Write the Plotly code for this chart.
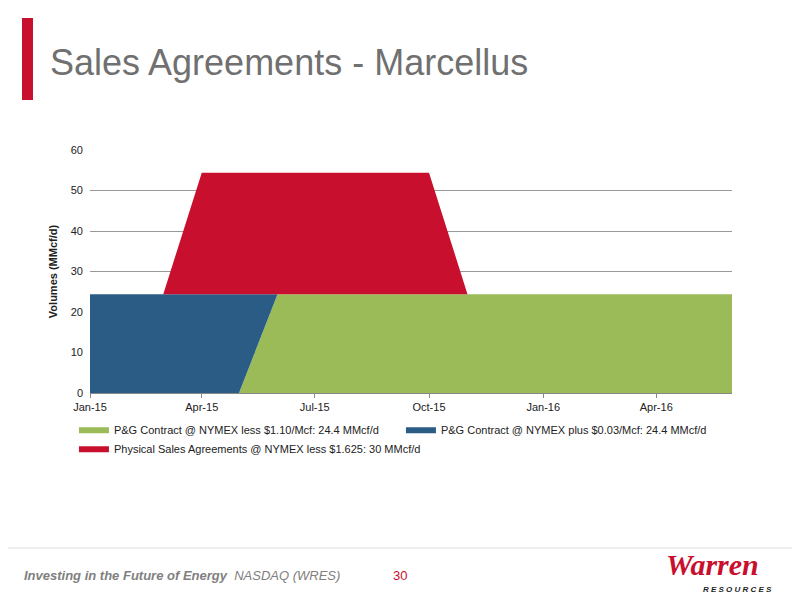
import plotly.graph_objects as go

months = ["2015-01-01","2015-02-01","2015-03-01","2015-04-01","2015-05-01","2015-06-01",
          "2015-07-01","2015-08-01","2015-09-01","2015-10-01","2015-11-01","2015-12-01",
          "2016-01-01","2016-02-01","2016-03-01","2016-04-01","2016-05-01","2016-06-01"]
green = [0,0,0,0,0,24.4,24.4,24.4,24.4,24.4,24.4,24.4,24.4,24.4,24.4,24.4,24.4,24.4]
blue  = [24.4,24.4,24.4,24.4,24.4,0,0,0,0,0,0,0,0,0,0,0,0,0]
red   = [0,0,0,30,30,30,30,30,30,30,0,0,0,0,0,0,0,0]
names = ["P&G Contract @ NYMEX less $1.10/Mcf: 24.4 MMcf/d",
         "P&G Contract @ NYMEX plus $0.03/Mcf: 24.4 MMcf/d",
         "Physical Sales Agreements @ NYMEX less $1.625: 30 MMcf/d"]
colors = ["#9BBB59", "#2B5C86", "#C8102E"]

fig = go.Figure()
for vals, n, c in zip([green, blue, red], names, colors):
    fig.add_trace(go.Scatter(x=months, y=vals, name=n, stackgroup="s", mode="lines",
                             line=dict(width=0, color=c), fillcolor=c))

H = 243.0
W = 642.0
fig.update_layout(
    width=800, height=600, paper_bgcolor="white", plot_bgcolor="white",
    margin=dict(l=82, r=76, t=142, b=215),
    font=dict(family="Liberation Sans, Arial", size=11, color="#222"),
    showlegend=True,
    legend=dict(orientation="h", x=-0.025, y=-0.09, xanchor="left", yanchor="top",
                traceorder="normal", font=dict(size=11, color="#222"),
                itemwidth=30, entrywidth=282, entrywidthmode="pixels"),
    xaxis=dict(type="date", range=["2015-01-01","2016-06-01"], dtick="M3",
               tick0="2015-01-01", tickformat="%b-%y", showgrid=False,
               showline=True, linecolor="#888", ticks="outside", ticklen=4, tickcolor="#888"),
    yaxis=dict(range=[0,60], dtick=10, showgrid=True, gridcolor="#999",
               showline=False, ticks="", zeroline=False, ticklabelstandoff=6,
               title=dict(text="<b>Volumes (MMcf/d)</b>", font=dict(size=11), standoff=10)),
    shapes=[
        dict(type="rect", xref="paper", yref="paper", x0=-68/W, x1=-57/W,
             y0=(393-100)/H, y1=(393-18)/H, fillcolor="#C8102E", line=dict(width=0)),
        dict(type="line", xref="paper", yref="paper", x0=-90/W, x1=(800-90)/W,
             y0=(393-548)/H, y1=(393-548)/H, line=dict(color="#DDD", width=1)),
    ],
    annotations=[
        dict(text="Sales Agreements - Marcellus", xref="paper", yref="paper",
             x=-42/W, y=(393-62)/H, xanchor="left", yanchor="middle", showarrow=False,
             font=dict(size=36, color="#707070")),
        dict(text="<b><i>Investing in the Future of Energy</i></b>  <i>NASDAQ (WRES)</i>",
             xref="paper", yref="paper", x=-68/W, y=(393-575)/H, xanchor="left",
             yanchor="middle", showarrow=False, font=dict(size=13, color="#808080")),
        dict(text="30", xref="paper", yref="paper", x=(400-90)/W, y=(393-575)/H,
             xanchor="center", yanchor="middle", showarrow=False,
             font=dict(size=13, color="#C8102E")),
        dict(text="<b><i>Warren</i></b>", xref="paper", yref="paper", x=(712-90)/W,
             y=(393-564)/H, xanchor="center", yanchor="middle", showarrow=False,
             font=dict(size=30, color="#C8102E", family="Liberation Serif")),
        dict(text="<b><i>R E S O U R C E S</i></b>", xref="paper", yref="paper", x=(738-90)/W,
             y=(393-589)/H, xanchor="center", yanchor="middle", showarrow=False,
             font=dict(size=8, color="#222")),
    ],
)
fig.write_html("out.html")
